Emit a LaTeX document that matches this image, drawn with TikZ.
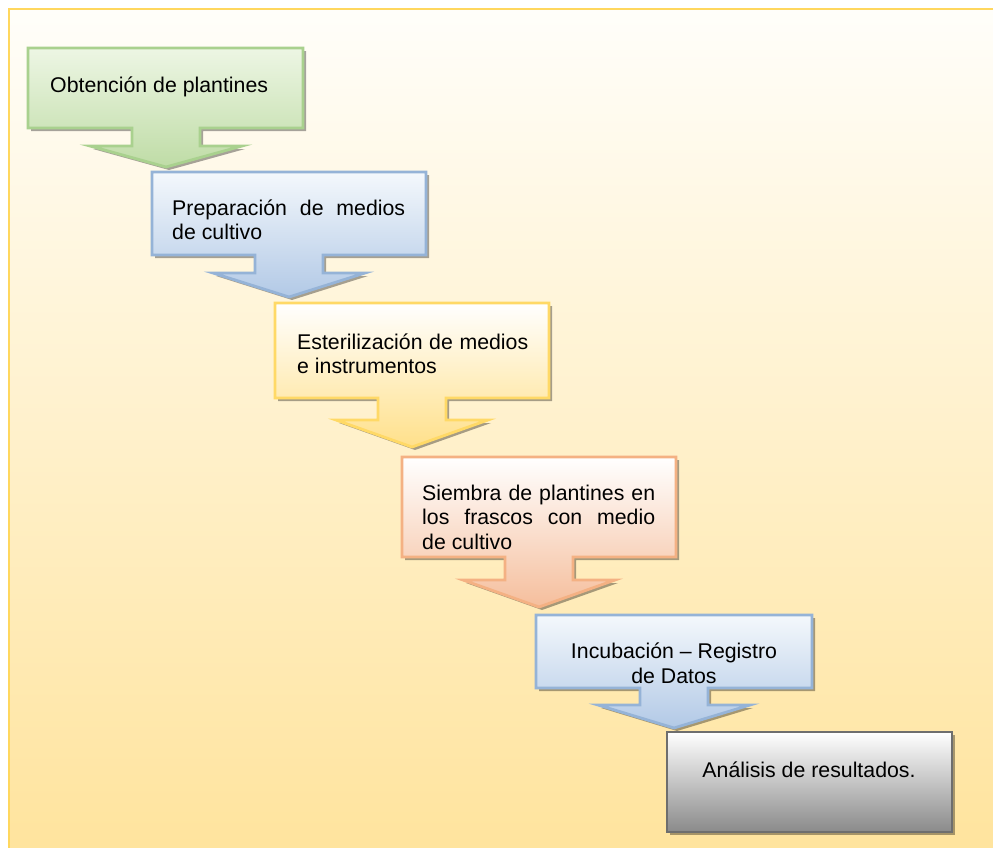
\documentclass[tikz,border=0pt]{standalone}
\usepackage{fontspec}
\setmainfont{Liberation Sans}
\usetikzlibrary{shadows,positioning}
\definecolor{Frame}{HTML}{FFD75E}
\definecolor{BgTop}{HTML}{FFFEFA}
\definecolor{BgBot}{HTML}{FFE39B}
\definecolor{GrnLine}{HTML}{A9D18E}
\definecolor{GrnTop}{HTML}{EDF6E4}
\definecolor{GrnBot}{HTML}{BFDCA6}
\definecolor{BluLine}{HTML}{95B3D7}
\definecolor{BluTop}{HTML}{F4F8FC}
\definecolor{BluBot}{HTML}{B2C9E6}
\definecolor{YelLine}{HTML}{FFD966}
\definecolor{YelTop}{HTML}{FFFFFF}
\definecolor{YelBot}{HTML}{FFE08A}
\definecolor{OrgLine}{HTML}{F4B183}
\definecolor{OrgTop}{HTML}{FFFFFF}
\definecolor{OrgBot}{HTML}{F5BE9C}
\definecolor{GryLine}{HTML}{6E6E6E}
\definecolor{GryTop}{HTML}{FFFFFF}
\definecolor{GryBot}{HTML}{8A8A8A}

\newcommand{\stepfont}{\fontsize{21.3}{24.5}\selectfont\hyphenpenalty=10000\relax}
% box with a down arrow under it: style, left, top, right, bottom, stem x, wing y, tip y
\newcommand{\stepcallout}[8]{%
  \path[#1] (#2,#3) -- (#4,#3) -- (#4,#5) -- (#6+34,#5) -- (#6+34,#7) -- (#6+76,#7)
    -- (#6,#8) -- (#6-76,#7) -- (#6-34,#7) -- (#6-34,#5) -- (#2,#5) -- cycle;}

\begin{document}
\begin{tikzpicture}[x=1pt, y=-1pt, font=\stepfont,
  calloutbox/.style={line width=2.8pt, line join=miter,
    drop shadow={shadow xshift=3pt, shadow yshift=-3pt, fill=black, opacity=0.35}},
  txtbox/.style={inner sep=0pt, align=justify, text width=233pt, anchor=west}]
  \clip (0,0) rectangle (993,847);
  \useasboundingbox (0,0) rectangle (993,847);
  \draw[Frame, line width=2pt, top color=BgTop, bottom color=BgBot] (9,9) rectangle (1010,870);

  \stepcallout{calloutbox, draw=GrnLine, top color=GrnTop, bottom color=GrnBot}{28}{48}{303}{128}{166}{146}{167}
  \stepcallout{calloutbox, draw=BluLine, top color=BluTop, bottom color=BluBot}{152}{172}{426}{255}{289}{273}{297}
  \stepcallout{calloutbox, draw=YelLine, top color=YelTop, bottom color=YelBot}{275}{303}{549}{398}{412}{420}{447}
  \stepcallout{calloutbox, draw=OrgLine, top color=OrgTop, bottom color=OrgBot}{402}{457}{676}{557}{539}{580}{607}
  \stepcallout{calloutbox, draw=BluLine, top color=BluTop, bottom color=BluBot}{536}{615}{812}{688}{674}{705}{728}
  \path[calloutbox, draw=GryLine, top color=GryTop, bottom color=GryBot] (667,732) rectangle (952,832);

  \node[inner sep=0pt, anchor=west] (obt) at (50,87) {Obtención de plantines};
  \node[txtbox] (prep) at (172,220) {Preparación de medios de cultivo};
  \node[txtbox, text width=231pt] (ester) at (297,354) {Esterilización de medios e instrumentos};
  \node[txtbox] (siembra) at (422,517) {Siembra de plantines en los frascos con medio\linebreak de cultivo};
  \node[inner sep=0pt, align=center] (incub) at (674,663) {Incubación – Registro\\de Datos};
  \node[inner sep=0pt] (anal) at (809,770) {Análisis de resultados.};
\end{tikzpicture}
\end{document}
